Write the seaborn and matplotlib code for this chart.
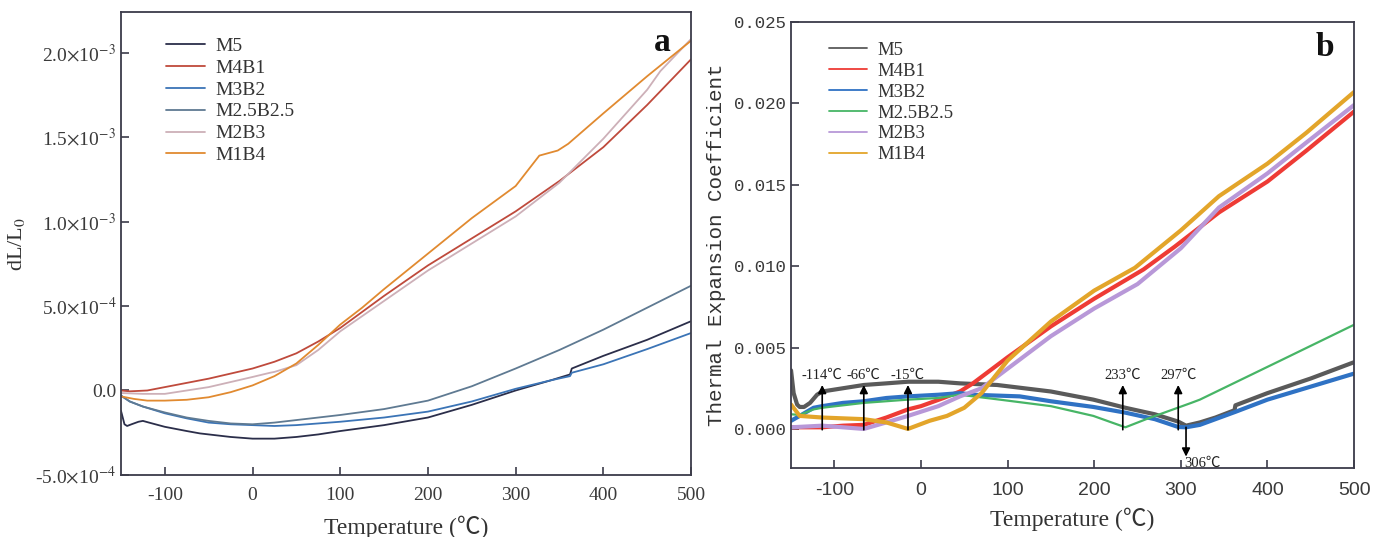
import numpy as np
import pandas as pd
import matplotlib
matplotlib.use("Agg")
import matplotlib.pyplot as plt
import seaborn as sns

# ---------------- Panel a data (dL/L0, in units of 1e-4) ----------------
series_names = ["M5", "M4B1", "M3B2", "M2.5B2.5", "M2B3", "M1B4"]

a_T_M5 = [-150, -146, -143, -138, -130, -125, -118, -100, -75, -60, -50, -25, 0, 25, 50, 75, 100, 150, 200, 250, 300, 340, 362, 364, 400, 450, 500]
a_M5 = [-1.2, -2.0, -2.1, -2.0, -1.85, -1.8, -1.9, -2.15, -2.4, -2.54, -2.6, -2.75, -2.85, -2.85, -2.75, -2.6, -2.4, -2.05, -1.6, -0.85, 0.0, 0.6, 0.95, 1.3, 2.05, 3.0, 4.1]

a_T_M4B1 = [-150, -140, -120, -100, -75, -50, -25, 0, 25, 50, 75, 100, 150, 200, 250, 300, 350, 400, 450, 500]
a_M4B1 = [0.0, -0.05, 0.0, 0.2, 0.45, 0.7, 1.0, 1.3, 1.7, 2.2, 2.9, 3.7, 5.6, 7.4, 9.0, 10.6, 12.4, 14.4, 16.9, 19.6]

a_T_M3B2 = [-150, -140, -125, -100, -75, -60, -50, -25, 0, 25, 50, 100, 150, 200, 250, 300, 340, 362, 364, 400, 450, 500]
a_M3B2 = [-0.3, -0.65, -0.95, -1.35, -1.65, -1.8, -1.9, -2.0, -2.05, -2.1, -2.05, -1.85, -1.6, -1.25, -0.65, 0.1, 0.6, 0.85, 1.05, 1.55, 2.45, 3.4]

a_T_M25B25 = [-150, -140, -125, -100, -75, -50, -25, 0, 25, 50, 100, 150, 200, 250, 300, 350, 400, 450, 500]
a_M25B25 = [-0.3, -0.65, -0.95, -1.3, -1.6, -1.8, -1.95, -2.0, -1.9, -1.75, -1.45, -1.1, -0.6, 0.25, 1.3, 2.4, 3.6, 4.9, 6.2]

a_T_M2B3 = [-150, -125, -100, -75, -50, -25, 0, 20, 25, 50, 75, 100, 150, 200, 250, 300, 350, 400, 450, 465, 500]
a_M2B3 = [-0.15, -0.2, -0.2, 0.0, 0.2, 0.5, 0.8, 1.05, 1.1, 1.5, 2.4, 3.5, 5.3, 7.1, 8.7, 10.3, 12.3, 14.9, 17.8, 18.9, 20.8]

a_T_M1B4 = [-150, -135, -120, -100, -75, -50, -25, 0, 25, 50, 75, 100, 125, 150, 200, 250, 300, 327, 348, 360, 400, 450, 500]
a_M1B4 = [-0.35, -0.5, -0.6, -0.6, -0.55, -0.4, -0.1, 0.3, 0.85, 1.6, 2.7, 3.9, 4.9, 6.0, 8.1, 10.2, 12.1, 13.9, 14.2, 14.6, 16.4, 18.6, 20.7]

# ---------------- Panel b data (thermal expansion coefficient) ----------------
b_T_M5 = [-150, -147, -143, -140, -135, -128, -120, -114, -90, -66, -40, -15, 20, 45, 88, 150, 199, 236, 270, 297, 306, 322, 340, 362, 363, 400, 450, 500]
b_M5 = [0.0036, 0.0022, 0.0015, 0.00135, 0.00135, 0.0016, 0.0021, 0.0023, 0.0025, 0.0027, 0.0028, 0.0029, 0.0029, 0.0028, 0.0027, 0.0023, 0.0018, 0.0013, 0.0009, 0.00045, 0.0002, 0.0004, 0.0007, 0.00115, 0.00145, 0.0022, 0.0031, 0.0041]

b_T_M4B1 = [-150, -114, -90, -66, -40, -15, 0, 26, 45, 60, 80, 100, 150, 200, 257, 293, 344, 400, 445, 500]
b_M4B1 = [0.0001, 0.0001, 0.0002, 0.00025, 0.0007, 0.0012, 0.0014, 0.0019, 0.0023, 0.0028, 0.0036, 0.0044, 0.0063, 0.0080, 0.0098, 0.0112, 0.0133, 0.0152, 0.0171, 0.0195]

b_T_M3B2 = [-150, -140, -124, -114, -90, -66, -40, -15, 20, 45, 60, 114, 150, 199, 236, 270, 297, 306, 322, 363, 400, 450, 500]
b_M3B2 = [0.0005, 0.0008, 0.0013, 0.0014, 0.0016, 0.0017, 0.0019, 0.0020, 0.0021, 0.0022, 0.0021, 0.0020, 0.0017, 0.00135, 0.0010, 0.0006, 0.00012, 0.0001, 0.00025, 0.00105, 0.0018, 0.0026, 0.0034]

b_T_M25B25 = [-150, -140, -124, -114, -66, -15, 20, 45, 91, 150, 199, 220, 236, 260, 312, 322, 415, 500]
b_M25B25 = [0.0009, 0.00086, 0.0012, 0.0013, 0.0016, 0.0018, 0.0019, 0.0021, 0.0018, 0.0014, 0.0008, 0.0004, 0.0001, 0.0006, 0.0016, 0.0018, 0.0042, 0.0064]

b_T_M2B3 = [-150, -114, -90, -66, -40, -15, 20, 45, 70, 100, 150, 200, 250, 300, 344, 400, 445, 500]
b_M2B3 = [0.0001, 0.0002, 0.0001, 0.0, 0.0004, 0.0008, 0.0014, 0.0020, 0.0025, 0.0037, 0.0057, 0.0074, 0.0089, 0.0111, 0.0136, 0.0157, 0.0176, 0.0199]

b_T_M1B4 = [-150, -140, -114, -90, -66, -40, -15, 10, 30, 50, 70, 100, 150, 200, 247, 300, 344, 400, 445, 500]
b_M1B4 = [0.0015, 0.0008, 0.0007, 0.00065, 0.0006, 0.0004, 0.0, 0.0005, 0.0008, 0.0013, 0.0022, 0.0042, 0.0066, 0.0085, 0.0099, 0.0122, 0.0143, 0.0163, 0.0182, 0.0207]

# transition annotations (panel b)
up_temps = [-114, -66, -15, 233, 297]
up_labels = ["-114℃", "-66℃", "-15℃", "233℃", "297℃"]
down_temp = 306
down_label = "306℃"

a_xticks = [-100, 0, 100, 200, 300, 400, 500]
a_yticks = [-5e-4, 0.0, 5e-4, 1e-3, 1.5e-3, 2e-3]
a_yticklabels = [r"-5.0$\times$10$^{-4}$", "0.0", r"5.0$\times$10$^{-4}$",
                 r"1.0$\times$10$^{-3}$", r"1.5$\times$10$^{-3}$", r"2.0$\times$10$^{-3}$"]
b_xticks = [-100, 0, 100, 200, 300, 400, 500]
b_yticks = [0.0, 0.005, 0.010, 0.015, 0.020, 0.025]
b_yticklabels = ["0.000", "0.005", "0.010", "0.015", "0.020", "0.025"]

# ---------------- style ----------------
sns.set_style("ticks")
plt.rcParams["font.family"] = ["Liberation Serif", "DejaVu Serif"]
plt.rcParams["mathtext.fontset"] = "stix"
plt.rcParams["axes.unicode_minus"] = False
plt.rcParams["xtick.direction"] = "in"
plt.rcParams["ytick.direction"] = "in"

a_colors = ["#2b2e4a", "#bf4a3c", "#3b74b6", "#5f7a92", "#cdb0b8", "#e18a30"]
b_colors = ["#5a5a5a", "#ee3b35", "#2f72c4", "#47b566", "#b898d8", "#e3a52a"]
b_widths = [3.0, 3.0, 3.0, 1.6, 3.0, 3.0]

fig = plt.figure(figsize=(13.81, 5.37), dpi=100)
axa = fig.add_axes([0.0876, 0.1155, 0.4128, 0.8622])
axb = fig.add_axes([0.5728, 0.1285, 0.4077, 0.8305])

a_T = [a_T_M5, a_T_M4B1, a_T_M3B2, a_T_M25B25, a_T_M2B3, a_T_M1B4]
a_V = [a_M5, a_M4B1, a_M3B2, a_M25B25, a_M2B3, a_M1B4]
for name, T, V, c in zip(series_names, a_T, a_V, a_colors):
    df = pd.DataFrame({"T": T, "v": np.array(V) * 1e-4})
    sns.lineplot(data=df, x="T", y="v", ax=axa, color=c, lw=1.3, label=name,
                 sort=False, estimator=None)

b_T = [b_T_M5, b_T_M4B1, b_T_M3B2, b_T_M25B25, b_T_M2B3, b_T_M1B4]
b_V = [b_M5, b_M4B1, b_M3B2, b_M25B25, b_M2B3, b_M1B4]
for name, T, V, c, w in zip(series_names, b_T, b_V, b_colors, b_widths):
    df = pd.DataFrame({"T": T, "v": V})
    sns.lineplot(data=df, x="T", y="v", ax=axb, color=c, lw=w, label=name,
                 sort=False, estimator=None)

tick_col = "#3a3a3a"
for ax in (axa, axb):
    for s in ax.spines.values():
        s.set_color("#3c3c4a")
        s.set_linewidth(1.3)
    ax.tick_params(length=6, width=1.2, color="#3c3c4a", labelcolor=tick_col)
    ax.set_xlim(-150, 500)

# panel a axes
axa.set_ylim(-5.0e-4, 2.24e-3)
axa.set_xticks(a_xticks)
axa.set_xticklabels([str(t) for t in a_xticks], fontsize=14)
axa.set_yticks(a_yticks)
axa.set_yticklabels(a_yticklabels, fontsize=14)
axa.tick_params(axis="x", pad=9)
axa.set_xlabel("Temperature (℃)", fontsize=17, color="#333333",
               family=["Liberation Serif", "Noto Sans CJK SC"], labelpad=8)
axa.set_ylabel(r"dL/L$_0$", fontsize=16, color="#333333", labelpad=6)
axa.text(0.965, 0.935, "a", transform=axa.transAxes, fontsize=24,
         fontweight="bold", ha="right", va="center", color="#111111")
leg = axa.legend(loc="upper left", bbox_to_anchor=(0.055, 0.975), frameon=False,
                 fontsize=14, handlelength=2.0, handletextpad=0.55,
                 labelspacing=0.22, borderpad=0.2)
for t in leg.get_texts():
    t.set_color("#333333")
for h in leg.get_lines():
    h.set_linewidth(1.3)

# panel b axes
axb.set_ylim(-0.0024, 0.025)
axb.set_xticks(b_xticks)
axb.set_xticklabels([str(t) for t in b_xticks], fontsize=14,
                    family=["Liberation Sans Narrow", "Liberation Sans"])
axb.set_yticks(b_yticks)
axb.set_yticklabels(b_yticklabels, fontsize=12.5, family="Liberation Mono")
axb.tick_params(axis="x", pad=10)
axb.set_xlabel("Temperature (℃)", fontsize=17, color="#333333",
               family=["Liberation Serif", "Noto Sans CJK SC"], labelpad=6)
axb.set_ylabel("Thermal Expansion Coefficient", fontsize=15, color="#333333",
               family="Liberation Mono", labelpad=6)
axb.text(0.965, 0.943, "b", transform=axb.transAxes, fontsize=24,
         fontweight="bold", ha="right", va="center", color="#111111")
leg = axb.legend(loc="upper left", bbox_to_anchor=(0.045, 0.985), frameon=False,
                 fontsize=13.5, handlelength=2.0, handletextpad=0.55,
                 labelspacing=0.2, borderpad=0.2)
for t in leg.get_texts():
    t.set_color("#333333")
for h in leg.get_lines():
    h.set_linewidth(1.3)

ann_family = ["Liberation Serif", "Noto Sans CJK SC"]
for T, lab in zip(up_temps, up_labels):
    axb.annotate("", xy=(T, 0.0027), xytext=(T, -0.00005),
                 arrowprops=dict(arrowstyle="-|>", color="black", lw=1.2,
                                 mutation_scale=12, shrinkA=0, shrinkB=0))
    axb.text(T, 0.0033, lab, ha="center", va="center", fontsize=10.5,
             family=ann_family, color="#222222")
axb.annotate("", xy=(down_temp, -0.0017), xytext=(down_temp, 0.0001),
             arrowprops=dict(arrowstyle="-|>", color="black", lw=1.2,
                             mutation_scale=12, shrinkA=0, shrinkB=0))
axb.text(down_temp - 2, -0.0021, down_label, ha="left", va="center", fontsize=10.5,
         family=ann_family, color="#222222")

fig.savefig("out.png", dpi=100)
